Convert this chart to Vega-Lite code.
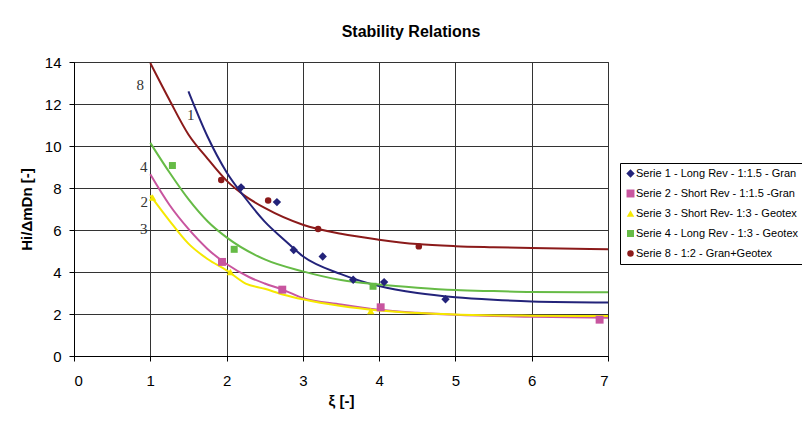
{
  "$schema": "https://vega.github.io/schema/vega-lite/v6.json",
  "autosize": {"type": "none"},
  "width": 534,
  "height": 294,
  "padding": {"left": 74, "top": 62, "right": 194, "bottom": 67},
  "background": "#ffffff",
  "title": {
    "text": "Stability Relations",
    "font": "Liberation Sans",
    "fontSize": 16,
    "fontWeight": "bold",
    "color": "#000000",
    "anchor": "middle",
    "dx": 70,
    "baseline": "middle",
    "offset": 7
  },
  "config": {
    "view": {"stroke": "#333333", "strokeWidth": 1},
    "axis": {
      "grid": true,
      "gridColor": "#333333",
      "gridWidth": 1,
      "gridOpacity": 1,
      "domainColor": "#000000",
      "tickColor": "#000000",
      "tickSize": 5,
      "labelFont": "Liberation Sans",
      "labelFontSize": 15,
      "labelColor": "#000000",
      "titleFont": "Liberation Sans",
      "titleFontSize": 15,
      "titleFontWeight": "bold",
      "titleColor": "#000000"
    }
  },
  "datasets": {
    "curves": [
      {"curve": "8", "x": 1.0, "y": 13.95},
      {"curve": "8", "x": 1.25, "y": 12.2},
      {"curve": "8", "x": 1.5, "y": 10.55},
      {"curve": "8", "x": 1.75, "y": 9.4},
      {"curve": "8", "x": 2.0, "y": 8.35},
      {"curve": "8", "x": 2.25, "y": 7.6},
      {"curve": "8", "x": 2.5, "y": 7.05},
      {"curve": "8", "x": 3.0, "y": 6.25},
      {"curve": "8", "x": 3.5, "y": 5.82},
      {"curve": "8", "x": 4.0, "y": 5.54},
      {"curve": "8", "x": 4.5, "y": 5.33},
      {"curve": "8", "x": 5.0, "y": 5.23},
      {"curve": "8", "x": 5.5, "y": 5.18},
      {"curve": "8", "x": 6.0, "y": 5.14},
      {"curve": "8", "x": 7.0, "y": 5.08},
      {"curve": "1", "x": 1.5, "y": 12.6},
      {"curve": "1", "x": 1.75, "y": 10.45},
      {"curve": "1", "x": 2.0, "y": 8.75},
      {"curve": "1", "x": 2.25, "y": 7.5},
      {"curve": "1", "x": 2.5, "y": 6.4},
      {"curve": "1", "x": 2.75, "y": 5.55},
      {"curve": "1", "x": 3.0, "y": 4.75},
      {"curve": "1", "x": 3.5, "y": 3.9},
      {"curve": "1", "x": 4.0, "y": 3.33},
      {"curve": "1", "x": 4.5, "y": 3.0},
      {"curve": "1", "x": 5.0, "y": 2.8},
      {"curve": "1", "x": 5.5, "y": 2.68},
      {"curve": "1", "x": 6.0, "y": 2.6},
      {"curve": "1", "x": 7.0, "y": 2.55},
      {"curve": "4", "x": 1.0, "y": 10.15},
      {"curve": "4", "x": 1.25, "y": 8.75},
      {"curve": "4", "x": 1.5, "y": 7.47},
      {"curve": "4", "x": 1.75, "y": 6.42},
      {"curve": "4", "x": 2.0, "y": 5.65},
      {"curve": "4", "x": 2.5, "y": 4.6},
      {"curve": "4", "x": 3.0, "y": 4.03},
      {"curve": "4", "x": 3.5, "y": 3.62},
      {"curve": "4", "x": 4.0, "y": 3.4},
      {"curve": "4", "x": 4.5, "y": 3.25},
      {"curve": "4", "x": 5.0, "y": 3.14},
      {"curve": "4", "x": 5.5, "y": 3.09},
      {"curve": "4", "x": 6.0, "y": 3.05},
      {"curve": "4", "x": 7.0, "y": 3.03},
      {"curve": "2", "x": 1.0, "y": 8.65},
      {"curve": "2", "x": 1.25, "y": 7.2},
      {"curve": "2", "x": 1.5, "y": 6.05},
      {"curve": "2", "x": 1.75, "y": 5.1},
      {"curve": "2", "x": 2.0, "y": 4.38},
      {"curve": "2", "x": 2.3, "y": 3.75},
      {"curve": "2", "x": 2.5, "y": 3.45},
      {"curve": "2", "x": 2.75, "y": 3.14},
      {"curve": "2", "x": 3.0, "y": 2.76},
      {"curve": "2", "x": 3.5, "y": 2.45},
      {"curve": "2", "x": 4.0, "y": 2.2},
      {"curve": "2", "x": 4.5, "y": 2.06},
      {"curve": "2", "x": 5.0, "y": 1.96},
      {"curve": "2", "x": 6.0, "y": 1.87},
      {"curve": "2", "x": 7.0, "y": 1.82},
      {"curve": "3", "x": 1.0, "y": 7.65},
      {"curve": "3", "x": 1.25, "y": 6.45},
      {"curve": "3", "x": 1.5, "y": 5.35},
      {"curve": "3", "x": 1.75, "y": 4.62},
      {"curve": "3", "x": 2.0, "y": 4.08},
      {"curve": "3", "x": 2.25, "y": 3.45},
      {"curve": "3", "x": 2.5, "y": 3.2},
      {"curve": "3", "x": 2.75, "y": 2.92},
      {"curve": "3", "x": 3.0, "y": 2.7},
      {"curve": "3", "x": 3.5, "y": 2.38},
      {"curve": "3", "x": 4.0, "y": 2.17},
      {"curve": "3", "x": 4.5, "y": 2.05},
      {"curve": "3", "x": 5.0, "y": 1.98},
      {"curve": "3", "x": 6.0, "y": 1.92},
      {"curve": "3", "x": 7.0, "y": 1.9}
    ],
    "points": [
      {"serie": "Serie 1 - Long Rev - 1:1.5 - Gran", "x": 2.19, "y": 8.03},
      {"serie": "Serie 1 - Long Rev - 1:1.5 - Gran", "x": 2.66, "y": 7.33},
      {"serie": "Serie 1 - Long Rev - 1:1.5 - Gran", "x": 2.88, "y": 5.05},
      {"serie": "Serie 1 - Long Rev - 1:1.5 - Gran", "x": 3.26, "y": 4.74},
      {"serie": "Serie 1 - Long Rev - 1:1.5 - Gran", "x": 3.66, "y": 3.63},
      {"serie": "Serie 1 - Long Rev - 1:1.5 - Gran", "x": 4.065, "y": 3.52},
      {"serie": "Serie 1 - Long Rev - 1:1.5 - Gran", "x": 4.87, "y": 2.7},
      {"serie": "Serie 2 - Short Rev - 1:1.5 -Gran", "x": 1.94, "y": 4.48},
      {"serie": "Serie 2 - Short Rev - 1:1.5 -Gran", "x": 2.73, "y": 3.16},
      {"serie": "Serie 2 - Short Rev - 1:1.5 -Gran", "x": 4.02, "y": 2.32},
      {"serie": "Serie 2 - Short Rev - 1:1.5 -Gran", "x": 6.89, "y": 1.73},
      {"serie": "Serie 3 - Short Rev- 1:3 - Geotex", "x": 1.03, "y": 7.55},
      {"serie": "Serie 3 - Short Rev- 1:3 - Geotex", "x": 2.05, "y": 4.0},
      {"serie": "Serie 3 - Short Rev- 1:3 - Geotex", "x": 3.89, "y": 2.14},
      {"serie": "Serie 4 - Long Rev - 1:3 - Geotex", "x": 1.29, "y": 9.07},
      {"serie": "Serie 4 - Long Rev - 1:3 - Geotex", "x": 2.1, "y": 5.08},
      {"serie": "Serie 4 - Long Rev - 1:3 - Geotex", "x": 3.92, "y": 3.32},
      {"serie": "Serie 8 - 1:2 - Gran+Geotex", "x": 1.93, "y": 8.38},
      {"serie": "Serie 8 - 1:2 - Gran+Geotex", "x": 2.545, "y": 7.4},
      {"serie": "Serie 8 - 1:2 - Gran+Geotex", "x": 3.2, "y": 6.05},
      {"serie": "Serie 8 - 1:2 - Gran+Geotex", "x": 4.52, "y": 5.22}
    ],
    "labels": [
      {"label": "8", "x": 0.87, "y": 12.92},
      {"label": "1", "x": 1.53, "y": 11.48},
      {"label": "4", "x": 0.915, "y": 8.98},
      {"label": "2", "x": 0.92, "y": 7.35},
      {"label": "3", "x": 0.915, "y": 6.05}
    ]
  },
  "encoding": {
    "x": {
      "field": "x",
      "type": "quantitative",
      "scale": {"domain": [0, 7], "nice": false, "zero": false},
      "axis": {
        "values": [0, 1, 2, 3, 4, 5, 6, 7],
        "title": "ξ [-]",
        "labelPadding": 12,
        "titlePadding": 5
      }
    },
    "y": {
      "field": "y",
      "type": "quantitative",
      "scale": {"domain": [0, 14], "nice": false, "zero": false},
      "axis": {
        "values": [0, 2, 4, 6, 8, 10, 12, 14],
        "title": "Hi/ΔmDn [-]",
        "labelPadding": 8,
        "titlePadding": 10
      }
    }
  },
  "layer": [
    {
      "data": {"name": "curves"},
      "mark": {"type": "line", "interpolate": "monotone", "strokeWidth": 2, "clip": true},
      "encoding": {
        "stroke": {
          "field": "curve",
          "type": "nominal",
          "scale": {
            "domain": ["8", "1", "4", "2", "3"],
            "range": ["#8B1A1A", "#23237A", "#66BB46", "#C8559F", "#F5E800"]
          },
          "legend": null
        },
        "detail": {"field": "curve"}
      }
    },
    {
      "data": {"name": "points"},
      "mark": {"type": "point", "filled": true, "opacity": 1},
      "encoding": {
        "shape": {
          "field": "serie",
          "type": "nominal",
          "scale": {
            "domain": [
              "Serie 1 - Long Rev - 1:1.5 - Gran",
              "Serie 2 - Short Rev - 1:1.5 -Gran",
              "Serie 3 - Short Rev- 1:3 - Geotex",
              "Serie 4 - Long Rev - 1:3 - Geotex",
              "Serie 8 - 1:2 - Gran+Geotex"
            ],
            "range": ["diamond", "square", "triangle-up", "square", "circle"]
          },
          "legend": {
            "title": null,
            "orient": "none",
            "legendX": 546,
            "legendY": 101,
            "padding": 5,
            "strokeColor": "#000000",
            "fillColor": "#ffffff",
            "labelFont": "Liberation Sans",
            "labelFontSize": 11,
            "labelColor": "#000000",
            "labelLimit": 300,
            "rowPadding": 8,
            "labelOffset": 0,
            "symbolSize": 36
          }
        },
        "size": {
          "field": "serie",
          "type": "nominal",
          "scale": {
            "domain": [
              "Serie 1 - Long Rev - 1:1.5 - Gran",
              "Serie 2 - Short Rev - 1:1.5 -Gran",
              "Serie 3 - Short Rev- 1:3 - Geotex",
              "Serie 4 - Long Rev - 1:3 - Geotex",
              "Serie 8 - 1:2 - Gran+Geotex"
            ],
            "range": [70, 42, 55, 42, 45]
          },
          "legend": null
        },
        "color": {
          "field": "serie",
          "type": "nominal",
          "scale": {
            "domain": [
              "Serie 1 - Long Rev - 1:1.5 - Gran",
              "Serie 2 - Short Rev - 1:1.5 -Gran",
              "Serie 3 - Short Rev- 1:3 - Geotex",
              "Serie 4 - Long Rev - 1:3 - Geotex",
              "Serie 8 - 1:2 - Gran+Geotex"
            ],
            "range": ["#23237A", "#C8559F", "#F5E800", "#66BB46", "#8B1A1A"]
          },
          "legend": {
            "title": null,
            "orient": "none",
            "legendX": 546,
            "legendY": 101,
            "padding": 5,
            "strokeColor": "#000000",
            "fillColor": "#ffffff",
            "labelFont": "Liberation Sans",
            "labelFontSize": 11,
            "labelColor": "#000000",
            "labelLimit": 300,
            "rowPadding": 8,
            "labelOffset": 0,
            "symbolSize": 36
          }
        }
      }
    },
    {
      "data": {"name": "labels"},
      "mark": {
        "type": "text",
        "font": "Liberation Serif",
        "fontSize": 15,
        "color": "#333333",
        "align": "center",
        "baseline": "middle"
      },
      "encoding": {"text": {"field": "label", "type": "nominal"}}
    }
  ]
}
